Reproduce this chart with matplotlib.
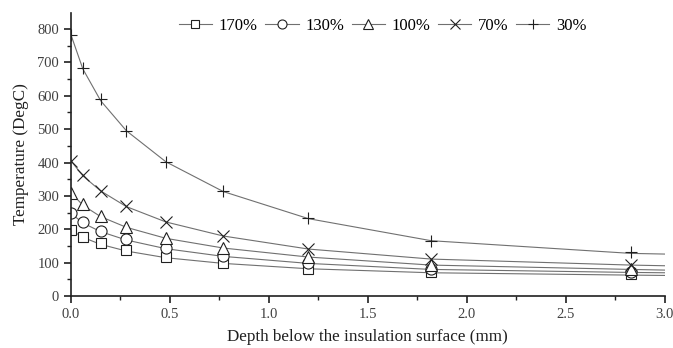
import matplotlib.pyplot as plt
from matplotlib.ticker import MultipleLocator

plt.rcParams['font.family'] = ['Liberation Serif', 'DejaVu Serif']

# Depth of the measuring points (mm)
depth = [0.0, 0.06, 0.15, 0.28, 0.48, 0.77, 1.2, 1.82, 2.83]

# Temperatures at the measuring points (DegC)
t170 = [198, 178, 158, 138, 118, 100, 82, 72, 66]
t130 = [248, 221, 195, 170, 143, 120, 98, 80, 72]
t100 = [310, 275, 240, 208, 175, 145, 116, 92, 80]
t70 = [405, 362, 315, 270, 223, 181, 140, 110, 93]
t30 = [782, 684, 590, 495, 402, 315, 233, 166, 133]

# Fitted curves, read at the same depths plus the end of the axis
curve_depth = depth + [3.0]
c170 = [198, 176, 155, 135, 115, 98, 82, 70, 63, 62]
c130 = [248, 219, 193, 168, 142, 119, 98, 80, 71, 70]
c100 = [310, 272, 238, 206, 173, 144, 117, 93, 80, 78]
c70 = [405, 360, 315, 268, 222, 180, 141, 111, 93, 91]
c30 = [782, 680, 585, 495, 402, 313, 232, 166, 128, 126]

labels = ['170%', '130%', '100%', '70%', '30%']
markers = ['s', 'o', '^', 'x', '+']
sizes = [7, 8, 8, 9, 8]

fig = plt.figure(figsize=(6.73, 3.48), dpi=100)
ax = fig.add_axes([0.1055, 0.149, 0.882, 0.814])

series = [t170, t130, t100, t70, t30]
curves = [c170, c130, c100, c70, c30]
for vals, cvals, lab, mk, ms in zip(series, curves, labels, markers, sizes):
    ax.plot(curve_depth, cvals, color='#707070', linewidth=0.8)
    ax.plot(depth, vals, linestyle='none', marker=mk, markersize=ms,
            markerfacecolor='white', markeredgecolor='#202020', markeredgewidth=0.8)
    # legend proxy
    ax.plot([], [], color='#707070', linewidth=0.8, marker=mk, markersize=ms - 1.5,
            markerfacecolor='white', markeredgecolor='#202020', markeredgewidth=0.8,
            label=lab)

ax.set_xlim(0, 3.0)
ax.set_ylim(0, 848)
ax.xaxis.set_major_locator(MultipleLocator(0.5))
ax.xaxis.set_minor_locator(MultipleLocator(0.25))
ax.yaxis.set_major_locator(MultipleLocator(100))
ax.yaxis.set_minor_locator(MultipleLocator(50))
ax.xaxis.set_major_formatter(plt.FormatStrFormatter('%.1f'))

for side in ['top', 'right']:
    ax.spines[side].set_visible(False)
for side in ['left', 'bottom']:
    ax.spines[side].set_linewidth(1.2)
    ax.spines[side].set_color('#202020')
ax.tick_params(which='major', direction='out', length=5, width=1.2, labelsize=10.5,
               colors='#202020', labelcolor='#404040')
ax.tick_params(which='minor', direction='out', length=3, width=1.0, colors='#202020')

ax.set_xlabel('Depth below the insulation surface (mm)', fontsize=12.3, color='#202020',
              labelpad=6)
ax.set_ylabel('Temperature (DegC)', fontsize=12.3, color='#202020', labelpad=6)

ax.legend(loc='upper center', bbox_to_anchor=(0.525, 1.035), ncol=5, frameon=False,
          fontsize=12, handlelength=2.0, handletextpad=0.4, columnspacing=0.45)

fig.savefig('out.png', dpi=100)
